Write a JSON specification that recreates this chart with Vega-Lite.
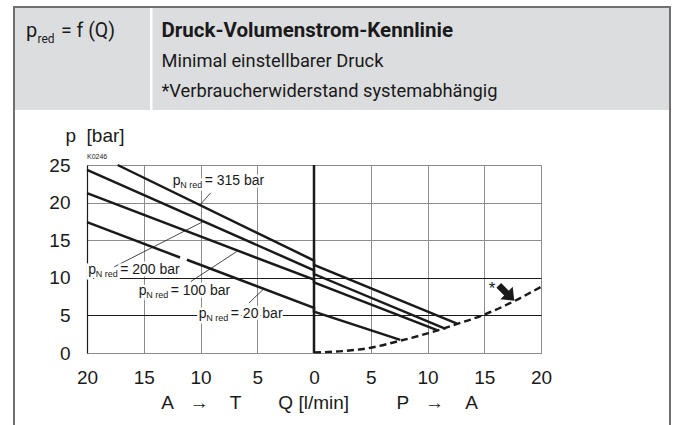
{
  "$schema": "https://vega.github.io/schema/vega-lite/v6.json",
  "width": 454,
  "height": 188,
  "autosize": "none",
  "padding": {"left": 87, "top": 165, "right": 137, "bottom": 72},
  "background": "#ffffff",
  "config": {
    "view": {"stroke": "#8a8a8a", "strokeWidth": 1},
    "text": {"font": "Liberation Sans", "fill": "#1a1a1a"}
  },
  "datasets": {
    "pump": [
      {"series": "315", "i": 0, "q": -17.3, "p": 25.0},
      {"series": "315", "i": 1, "q": 0, "p": 12.3},
      {"series": "315", "i": 2, "q": 0, "p": 11.7},
      {"series": "315", "i": 3, "q": 12.6, "p": 3.9},
      {"series": "200", "i": 0, "q": -20, "p": 24.35},
      {"series": "200", "i": 1, "q": 0, "p": 11.0},
      {"series": "200", "i": 2, "q": 0, "p": 10.5},
      {"series": "200", "i": 3, "q": 11.6, "p": 3.2},
      {"series": "100", "i": 0, "q": -20, "p": 21.25},
      {"series": "100", "i": 1, "q": 0, "p": 9.75},
      {"series": "100", "i": 2, "q": 0, "p": 9.4},
      {"series": "100", "i": 3, "q": 10.9, "p": 3.0},
      {"series": "20a", "i": 0, "q": -20, "p": 17.4},
      {"series": "20a", "i": 1, "q": -11.8, "p": 12.7},
      {"series": "20b", "i": 0, "q": -11.2, "p": 12.4},
      {"series": "20b", "i": 1, "q": 0, "p": 6.0},
      {"series": "20b", "i": 2, "q": 0, "p": 5.5},
      {"series": "20b", "i": 3, "q": 7.6, "p": 1.75}
    ],
    "curve": [
      {"q": 0, "p": 0.08},
      {"q": 2.5, "p": 0.25},
      {"q": 5, "p": 0.7},
      {"q": 7.5, "p": 1.6},
      {"q": 10, "p": 2.6},
      {"q": 12.5, "p": 3.8},
      {"q": 15, "p": 5.1},
      {"q": 17.5, "p": 6.8},
      {"q": 20, "p": 8.8}
    ],
    "zeroline": [
      {"q": 0, "p": 0},
      {"q": 0, "p": 25}
    ],
    "labels": [
      {"q": -12.45, "p": 22.35, "txt": "= 315 bar"},
      {"q": -19.9, "p": 10.5, "txt": "= 200 bar"},
      {"q": -15.45, "p": 7.65, "txt": "= 100 bar"},
      {"q": -10.15, "p": 4.65, "txt": "= 20 bar"}
    ],
    "leaders": [
      {"q": -9.1, "p": 21.3, "q2": -10.1, "p2": 19.6},
      {"q": -17.6, "p": 11.46, "q2": -9.8, "p2": 17.45},
      {"q": -10.86, "p": 9.5, "q2": -6.8, "p2": 13.5},
      {"q": -5.73, "p": 6.64, "q2": -4.45, "p2": 8.5}
    ]
  },
  "layer": [
    {"data": {"values": [{}]}, "mark": {"type": "rect", "x": -73, "x2": 63, "y": -158, "y2": -55, "fill": "#dcdddf"}},
    {"data": {"values": [{}]}, "mark": {"type": "rect", "x": 65.5, "x2": 583, "y": -158, "y2": -55, "fill": "#dcdddf"}},
    {"data": {"values": [{}]}, "mark": {"type": "rect", "x": -73, "x2": 583, "y": -158, "y2": 266, "fillOpacity": 0, "stroke": "#707070", "strokeWidth": 2}},
    {"data": {"values": [{}]}, "mark": {"type": "text", "text": "p", "x": -61, "y": -128.3, "align": "left", "baseline": "alphabetic", "font": "Roboto", "fontSize": 20}},
    {"data": {"values": [{}]}, "mark": {"type": "text", "text": "red", "x": -49.5, "y": -121.7, "align": "left", "baseline": "alphabetic", "font": "Roboto", "fontSize": 12}},
    {"data": {"values": [{}]}, "mark": {"type": "text", "text": "= f (Q)", "x": -26, "y": -128.3, "align": "left", "baseline": "alphabetic", "font": "Roboto", "fontSize": 19.5}},
    {"data": {"values": [{}]}, "mark": {"type": "text", "text": "Druck-Volumenstrom-Kennlinie", "x": 74.5, "y": -128.3, "align": "left", "baseline": "alphabetic", "font": "Roboto", "fontSize": 20.5, "fontWeight": "bold"}},
    {"data": {"values": [{}]}, "mark": {"type": "text", "text": ["Minimal einstellbarer Druck", "*Verbraucherwiderstand systemabhängig"], "x": 74.5, "y": -98, "lineHeight": 30, "align": "left", "baseline": "alphabetic", "font": "Roboto", "fontSize": 18.3}},
    {
      "encoding": {
        "x": {"field": "q", "type": "quantitative", "scale": {"domain": [-20, 20], "nice": false, "zero": false},
          "axis": {"values": [-20, -15, -10, -5, 0, 5, 10, 15, 20], "labelExpr": "abs(datum.value)", "labelFlush": false, "labelOverlap": false,
            "labelFont": "Liberation Sans", "labelFontSize": 19, "labelColor": "#1a1a1a", "labelPadding": 15,
            "ticks": false, "tickSize": 0, "domain": false, "grid": true, "gridColor": "#8c8c8c", "gridWidth": 1,
            "title": "A\u00a0\u00a0\u00a0→\u00a0\u00a0\u00a0\u00a0T\u00a0\u00a0\u00a0\u00a0\u00a0\u00a0\u00a0Q [l/min]\u00a0\u00a0\u00a0\u00a0\u00a0\u00a0\u00a0\u00a0\u00a0P\u00a0\u00a0\u00a0→\u00a0\u00a0\u00a0\u00a0A",
            "titleFont": "Liberation Sans", "titleFontSize": 19, "titleFontWeight": "normal", "titleColor": "#1a1a1a",
            "titleX": 232, "titleY": 55, "titleAlign": "center", "titleBaseline": "alphabetic"}},
        "y": {"field": "p", "type": "quantitative", "scale": {"domain": [0, 25], "nice": false, "zero": false},
          "axis": {"values": [0, 5, 10, 15, 20, 25], "labelOverlap": false, "labelFont": "Liberation Sans", "labelFontSize": 19, "labelColor": "#1a1a1a",
            "labelPadding": 17, "ticks": false, "tickSize": 0, "domain": true, "domainColor": "#1a1a1a", "domainWidth": 1.2,
            "grid": true, "gridWidth": 1,
            "gridColor": {"condition": {"test": "datum.value === 5 || datum.value === 10", "value": "#1a1a1a"}, "value": "#8c8c8c"},
            "title": "p\u00a0\u00a0[bar]", "titleAngle": 0, "titleAlign": "center", "titleBaseline": "alphabetic",
            "titleX": 7.5, "titleY": -24, "titleFont": "Liberation Sans", "titleFontSize": 19, "titleFontWeight": "normal", "titleColor": "#1a1a1a"}}
      },
      "layer": [
        {
          "data": {"name": "zeroline"},
          "mark": {"type": "line", "strokeWidth": 2.5, "color": "#1a1a1a"}
        },
        {
          "data": {"name": "leaders"},
          "mark": {"type": "rule", "strokeWidth": 0.8, "color": "#1a1a1a"},
          "encoding": {"x2": {"field": "q2"}, "y2": {"field": "p2"}}
        },
        {
          "data": {"name": "labels"},
          "mark": {"type": "text", "text": "p", "align": "left", "baseline": "alphabetic", "fontSize": 14, "stroke": "#ffffff", "strokeWidth": 5, "fill": "#ffffff"}
        },
        {
          "data": {"name": "labels"},
          "mark": {"type": "text", "text": "N red", "align": "left", "baseline": "alphabetic", "fontSize": 9, "dx": 7.5, "dy": 3, "stroke": "#ffffff", "strokeWidth": 5, "fill": "#ffffff"}
        },
        {
          "data": {"name": "labels"},
          "mark": {"type": "text", "align": "left", "baseline": "alphabetic", "fontSize": 14, "dx": 32, "stroke": "#ffffff", "strokeWidth": 5, "fill": "#ffffff"},
          "encoding": {"text": {"field": "txt"}}
        },
        {
          "data": {"name": "pump"},
          "mark": {"type": "line", "strokeWidth": 2.5, "color": "#1a1a1a"},
          "encoding": {"detail": {"field": "series"}, "order": {"field": "i"}}
        },
        {
          "data": {"name": "curve"},
          "mark": {"type": "line", "strokeWidth": 2.4, "color": "#1a1a1a", "strokeDash": [7, 4], "interpolate": "monotone"}
        },
        {
          "data": {"name": "labels"},
          "mark": {"type": "text", "text": "p", "align": "left", "baseline": "alphabetic", "fontSize": 14}
        },
        {
          "data": {"name": "labels"},
          "mark": {"type": "text", "text": "N red", "align": "left", "baseline": "alphabetic", "fontSize": 9, "dx": 7.5, "dy": 3}
        },
        {
          "data": {"name": "labels"},
          "mark": {"type": "text", "align": "left", "baseline": "alphabetic", "fontSize": 14, "dx": 32},
          "encoding": {"text": {"field": "txt"}}
        },
        {
          "data": {"values": [{"q": 15.4, "p": 7.9, "note": "*"}]},
          "mark": {"type": "text", "align": "left", "baseline": "alphabetic", "fontSize": 17},
          "encoding": {"text": {"field": "note"}}
        },
        {
          "data": {"values": [{"q": 16.96, "p": 7.97, "note": "load arrow"}]},
          "mark": {"type": "point", "filled": true, "color": "#1a1a1a", "opacity": 1, "size": 480, "angle": 45,
            "shape": "M-1,-0.3L0,-0.3L0,-0.8L1,0L0,0.8L0,0.3L-1,0.3Z"}
        },
        {
          "data": {"values": [{"q": -20, "p": 25, "note": "K0246"}]},
          "mark": {"type": "text", "align": "left", "baseline": "alphabetic", "fontSize": 7, "dy": -5.7},
          "encoding": {"text": {"field": "note"}}
        }
      ]
    }
  ]
}
